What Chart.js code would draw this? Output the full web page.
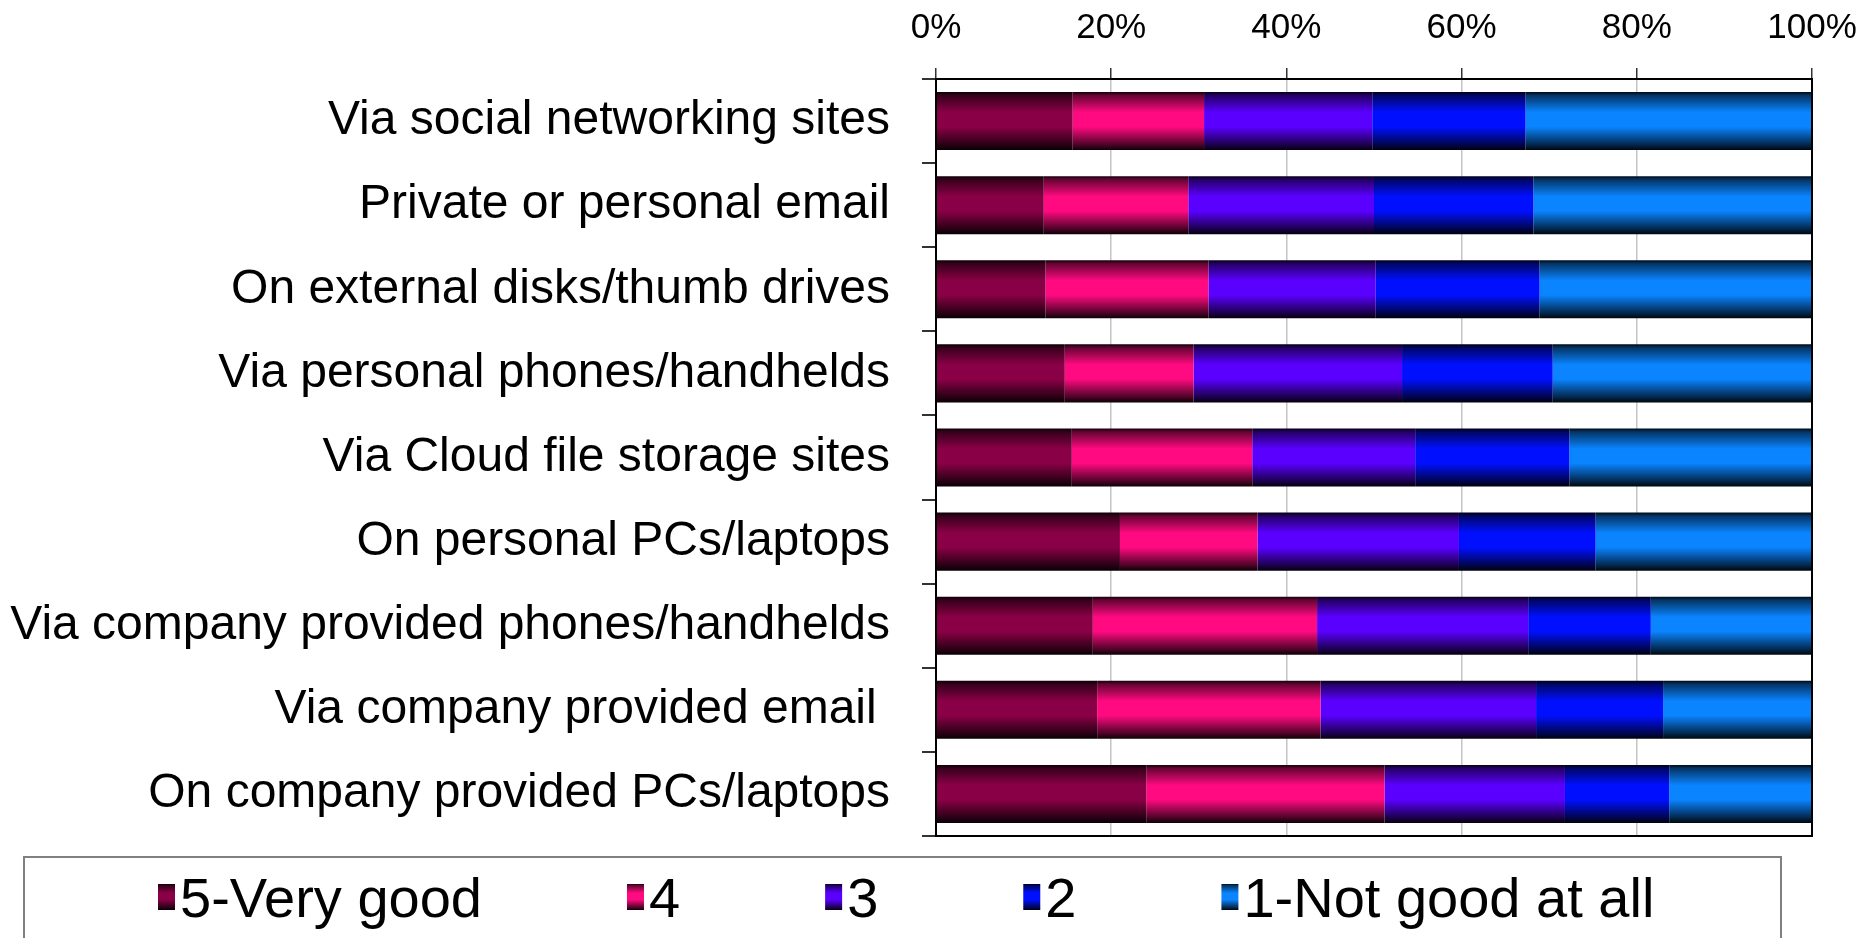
<!DOCTYPE html>
<html>
<head>
<meta charset="utf-8">
<script src="https://cdn.jsdelivr.net/npm/chart.js@4/dist/chart.umd.min.js"></script>
<style>
  html, body { margin: 0; padding: 0; background: #fff; }
  #chart { display: block; }
</style>
</head>
<body>
<canvas id="chart" width="1859" height="938"></canvas>
<script>
// categories, top to bottom
let categories = [
  "Via social networking sites",
  "Private or personal email",
  "On external disks/thumb drives",
  "Via personal phones/handhelds",
  "Via Cloud file storage sites",
  "On personal PCs/laptops",
  "Via company provided phones/handhelds",
  "Via company provided email ",
  "On company provided PCs/laptops"
];

let seriesNames = ["5-Very good", "4", "3", "2", "1-Not good at all"];

// share of answers, percent
let veryGood = [15.6, 12.3, 12.5, 14.7, 15.5, 21.0, 17.9, 18.4, 24.0];
let good     = [15.0, 16.5, 18.6, 14.7, 20.6, 15.7, 25.6, 25.5, 27.2];
let neutral  = [19.2, 21.2, 19.1, 23.8, 18.6, 23.0, 24.1, 24.6, 20.6];
let poor     = [17.5, 18.2, 18.7, 17.2, 17.6, 15.6, 14.0, 14.5, 11.9];
let notGood  = [32.7, 31.8, 31.1, 29.6, 27.7, 24.7, 18.4, 17.0, 16.3];

let tickValues = [0, 20, 40, 60, 80, 100];

let colors = ["#8a0046", "#ff0a80", "#5a00ff", "#0010ff", "#0a84ff"];

const FONT = "'Liberation Sans', Arial, sans-serif";
const BAR_PCT = 0.69;

function shade(hex, f) {
  let r = parseInt(hex.slice(1, 3), 16), g = parseInt(hex.slice(3, 5), 16), b = parseInt(hex.slice(5, 7), 16);
  return "rgb(" + Math.round(r * f) + "," + Math.round(g * f) + "," + Math.round(b * f) + ")";
}

function verticalGradient(c2d, hex, top, bottom) {
  let g = c2d.createLinearGradient(0, top, 0, bottom);
  g.addColorStop(0, shade(hex, 0.08));
  g.addColorStop(0.06, shade(hex, 0.4));
  g.addColorStop(0.35, shade(hex, 1));
  g.addColorStop(0.6, shade(hex, 1));
  g.addColorStop(0.9, shade(hex, 0.32));
  g.addColorStop(1, shade(hex, 0.05));
  return g;
}

function barFill(hex) {
  return (ctx) => {
    let chart = ctx.chart;
    let area = chart.chartArea;
    if (!area || ctx.dataIndex === undefined) return hex;
    let center = chart.scales.y.getPixelForValue(ctx.dataIndex);
    let half = (area.bottom - area.top) / categories.length * BAR_PCT / 2;
    return verticalGradient(chart.ctx, hex, center - half, center + half);
  };
}

let frame = {
  id: "frame",
  afterDatasetsDraw(chart) {
    let c = chart.ctx, a = chart.chartArea;
    c.save();
    c.strokeStyle = "#000";
    c.lineWidth = 2;
    c.strokeRect(a.left, a.top, a.right - a.left, a.bottom - a.top);
    c.restore();
  }
};

// legend drawn by hand inside a framed box at the bottom
let boxLegend = {
  id: "boxLegend",
  afterDraw(chart) {
    let c = chart.ctx;
    c.save();
    c.strokeStyle = "#808080";
    c.lineWidth = 2;
    c.strokeRect(24, 857, 1757, 90);
    c.font = "56px " + FONT;
    c.textBaseline = "alphabetic";
    let boxW = 17, boxH = 26, gap = 5, spacing = 145;
    let x = 158;
    let mid = 897;
    chart.data.datasets.forEach((ds, i) => {
      c.fillStyle = verticalGradient(c, colors[i], mid - boxH / 2, mid + boxH / 2);
      c.fillRect(x, mid - boxH / 2, boxW, boxH);
      c.fillStyle = "#000";
      c.fillText(ds.label, x + boxW + gap, mid + 20);
      x += boxW + gap + c.measureText(ds.label).width + spacing;
    });
    c.restore();
  }
};

let allSeries = [veryGood, good, neutral, poor, notGood];

new Chart(document.getElementById("chart"), {
  type: "bar",
  data: {
    labels: categories,
    datasets: allSeries.map((d, i) => ({
      label: seriesNames[i],
      data: d,
      backgroundColor: barFill(colors[i]),
      borderWidth: 0,
      barPercentage: BAR_PCT,
      categoryPercentage: 1
    }))
  },
  options: {
    indexAxis: "y",
    responsive: false,
    animation: false,
    layout: { padding: { top: 0, right: 47, bottom: 102, left: 0 } },
    plugins: {
      legend: { display: false },
      tooltip: { enabled: false }
    },
    scales: {
      x: {
        position: "top",
        stacked: true,
        min: 0,
        max: 100,
        afterBuildTicks: (scale) => { scale.ticks = tickValues.map(v => ({ value: v })); },
        afterFit: (scale) => {
          scale.height = 79;
          scale.paddingLeft = 0;
          scale.paddingRight = 0;
        },
        ticks: {
          padding: 19,
          color: "#000",
          font: { family: FONT, size: 35 },
          callback: (v) => v + "%"
        },
        grid: { color: "#c4c4c4", lineWidth: 1.5, tickColor: "#333", tickLength: 11 },
        border: { color: "#000", width: 2 }
      },
      y: {
        stacked: true,
        afterFit: (scale) => { scale.width = 936; },
        ticks: {
          padding: 32,
          color: "#000",
          font: { family: FONT, size: 48 }
        },
        grid: { drawOnChartArea: false, tickColor: "#333", tickLength: 14, lineWidth: 2 },
        border: { color: "#000", width: 2 }
      }
    }
  },
  plugins: [frame, boxLegend]
});
</script>
</body>
</html>
